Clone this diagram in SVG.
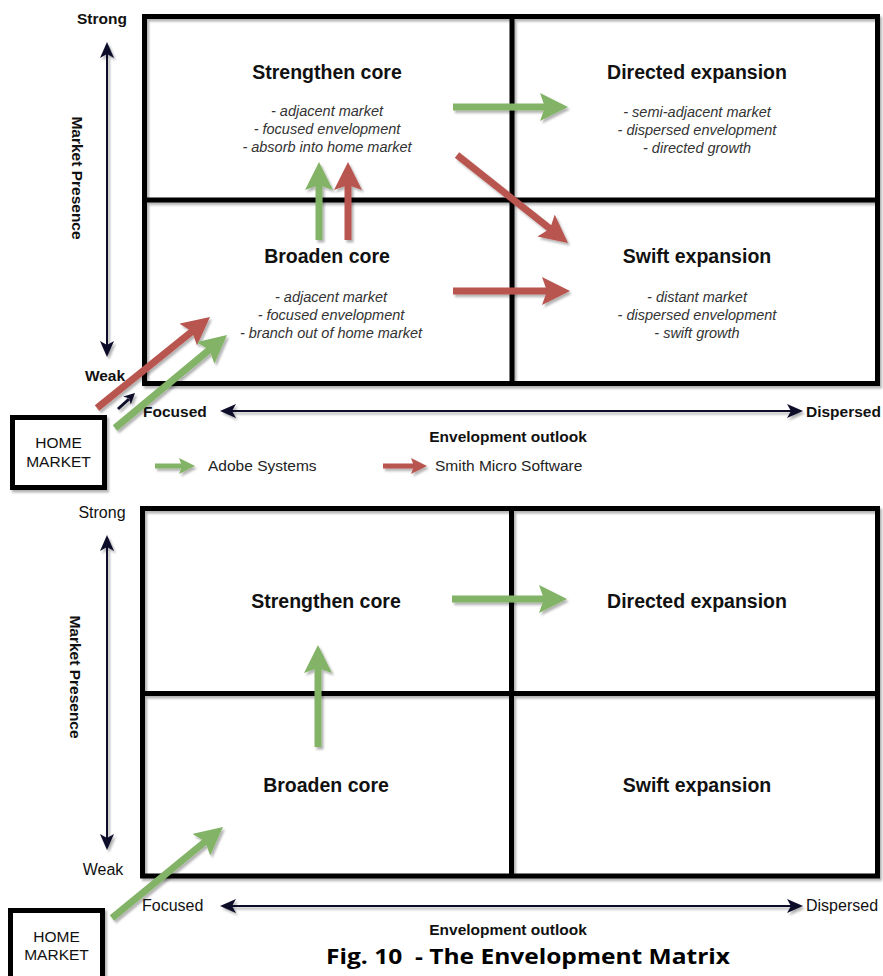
<svg xmlns="http://www.w3.org/2000/svg" width="883" height="976" viewBox="0 0 883 976">
<style>
  text { font-family: "Liberation Sans", Arial, sans-serif; fill: #111; }
  .title { font-size: 19.5px; font-weight: bold; text-anchor: middle; }
  .bullet { font-size: 14.5px; font-style: italic; text-anchor: middle; fill: #333; }
  .axb { font-size: 15.5px; font-weight: bold; }
  .axn { font-size: 16px; }
  .leg { font-size: 15.5px; fill: #222; }
  .home { font-size: 15.5px; text-anchor: middle; }
  .grid { fill: none; stroke: #000; stroke-width: 5; }
  .axis { fill: none; stroke: #0d0d2b; stroke-width: 2; }
  .g { fill: none; stroke: #82b366; stroke-width: 7; }
  .r { fill: none; stroke: #b85450; stroke-width: 7; }
  .gs { fill: none; stroke: #82b366; stroke-width: 5; }
  .rs { fill: none; stroke: #b85450; stroke-width: 5; }
  .caption { font-family: "Open Sans", "Noto Sans", sans-serif; font-size: 22px; font-weight: bold; text-anchor: middle; fill: #000; white-space: pre; }
</style>
<defs>
  <filter id="sh" filterUnits="userSpaceOnUse" x="0" y="0" width="883" height="976">
    <feDropShadow dx="2" dy="2.5" stdDeviation="1.2" flood-color="#000" flood-opacity="0.3"/>
  </filter>
  <marker id="hg" viewBox="0 0 28 28" markerWidth="28" markerHeight="28" markerUnits="userSpaceOnUse" refX="16" refY="14" orient="auto">
    <path d="M0,0 L28,14 L0,28 L5,14 z" fill="#82b366"/>
  </marker>
  <marker id="hr" viewBox="0 0 28 28" markerWidth="28" markerHeight="28" markerUnits="userSpaceOnUse" refX="16" refY="14" orient="auto">
    <path d="M0,0 L28,14 L0,28 L5,14 z" fill="#b85450"/>
  </marker>
  <marker id="hgs" viewBox="0 0 16 16" markerWidth="16" markerHeight="16" markerUnits="userSpaceOnUse" refX="9" refY="8" orient="auto">
    <path d="M0,0 L16,8 L0,16 L3,8 z" fill="#82b366"/>
  </marker>
  <marker id="hrs" viewBox="0 0 16 16" markerWidth="16" markerHeight="16" markerUnits="userSpaceOnUse" refX="9" refY="8" orient="auto">
    <path d="M0,0 L16,8 L0,16 L3,8 z" fill="#b85450"/>
  </marker>
  <marker id="ha" viewBox="0 0 16 14" markerWidth="16" markerHeight="14" markerUnits="userSpaceOnUse" refX="12" refY="7" orient="auto-start-reverse">
    <path d="M0,0 L16,7 L0,14 L4,7 z" fill="#0d0d2b"/>
  </marker>
</defs>

<!-- ===== TOP MATRIX ===== -->
<g id="top-matrix" filter="url(#sh)">
  <rect class="grid" x="144.5" y="16.5" width="733" height="367"/>
  <line class="grid" x1="512" y1="16.5" x2="512" y2="383.5"/>
  <line class="grid" x1="144.5" y1="200" x2="877.5" y2="200"/>
</g>

<g id="top-strengthen">
  <text class="title" x="327" y="79">Strengthen core</text>
  <text class="bullet" x="327" y="116">- adjacent market</text>
  <text class="bullet" x="327" y="134">- focused envelopment</text>
  <text class="bullet" x="327" y="152">- absorb into home market</text>
</g>
<g id="top-directed">
  <text class="title" x="697" y="79">Directed expansion</text>
  <text class="bullet" x="697" y="117">- semi-adjacent market</text>
  <text class="bullet" x="697" y="135">- dispersed envelopment</text>
  <text class="bullet" x="697" y="153">- directed growth</text>
</g>
<g id="top-broaden">
  <text class="title" x="327" y="263">Broaden core</text>
  <text class="bullet" x="331" y="302">- adjacent market</text>
  <text class="bullet" x="331" y="320">- focused envelopment</text>
  <text class="bullet" x="331" y="338">- branch out of home market</text>
</g>
<g id="top-swift">
  <text class="title" x="697" y="263">Swift expansion</text>
  <text class="bullet" x="697" y="302">- distant market</text>
  <text class="bullet" x="697" y="320">- dispersed envelopment</text>
  <text class="bullet" x="697" y="338">- swift growth</text>
</g>

<g id="top-axes">
  <g filter="url(#sh)">
    <line class="axis" x1="107" y1="46" x2="107" y2="353" marker-start="url(#ha)" marker-end="url(#ha)"/>
    <line class="axis" x1="224" y1="411" x2="799" y2="411" marker-start="url(#ha)" marker-end="url(#ha)"/>
  </g>
  <text class="axb" x="102" y="24" text-anchor="middle">Strong</text>
  <text class="axb" x="105" y="381" text-anchor="middle">Weak</text>
  <text class="axb" x="143" y="417">Focused</text>
  <text class="axb" x="806" y="417">Dispersed</text>
  <text class="axb" x="508" y="442" text-anchor="middle">Envelopment outlook</text>
  <text class="axb" transform="translate(72,178) rotate(90)" text-anchor="middle">Market Presence</text>
</g>

<g id="top-home">
  <rect x="12.5" y="417.5" width="92" height="70" fill="#fff" stroke="#000" stroke-width="5" filter="url(#sh)"/>
  <text class="home" x="58.5" y="448">HOME</text>
  <text class="home" x="58.5" y="467">MARKET</text>
</g>

<g id="top-connectors" filter="url(#sh)">
  <line class="r" x1="97" y1="408" x2="200.65" y2="324.5" marker-end="url(#hr)"/>
  <line class="g" x1="115" y1="428" x2="217.8" y2="342.7" marker-end="url(#hg)"/>
  <line x1="118" y1="409" x2="129" y2="399" stroke="#0d0d2b" stroke-width="3"/>
  <path d="M135,393 L130.8,404.6 L129.2,398.5 L123.2,396.6 z" fill="#0d0d2b"/>
  <line class="g" x1="319" y1="240" x2="319" y2="174" marker-end="url(#hg)"/>
  <line class="r" x1="348" y1="240" x2="348" y2="174" marker-end="url(#hr)"/>
  <line class="g" x1="453" y1="107" x2="556" y2="107" marker-end="url(#hg)"/>
  <line class="r" x1="457" y1="155" x2="558.6" y2="235.5" marker-end="url(#hr)"/>
  <line class="r" x1="453" y1="291" x2="558" y2="291" marker-end="url(#hr)"/>
</g>

<g id="legend">
  <g filter="url(#sh)">
    <line class="gs" x1="155" y1="466" x2="188" y2="466" marker-end="url(#hgs)"/>
    <line class="rs" x1="383" y1="466" x2="420" y2="466" marker-end="url(#hrs)"/>
  </g>
  <text class="leg" x="208" y="471">Adobe Systems</text>
  <text class="leg" x="435" y="471">Smith Micro Software</text>
</g>

<!-- ===== BOTTOM MATRIX ===== -->
<g id="bottom-matrix" filter="url(#sh)">
  <rect class="grid" x="142.5" y="508.5" width="735" height="367.5"/>
  <line class="grid" x1="511.5" y1="508.5" x2="511.5" y2="876"/>
  <line class="grid" x1="142.5" y1="693.5" x2="877.5" y2="693.5"/>
</g>

<g id="bottom-strengthen"><text class="title" x="326" y="608">Strengthen core</text></g>
<g id="bottom-directed"><text class="title" x="697" y="608">Directed expansion</text></g>
<g id="bottom-broaden"><text class="title" x="326" y="792">Broaden core</text></g>
<g id="bottom-swift"><text class="title" x="697" y="792">Swift expansion</text></g>

<g id="bottom-axes">
  <g filter="url(#sh)">
    <line class="axis" x1="107" y1="539" x2="107" y2="846" marker-start="url(#ha)" marker-end="url(#ha)"/>
    <line class="axis" x1="224" y1="906" x2="799" y2="906" marker-start="url(#ha)" marker-end="url(#ha)"/>
  </g>
  <text class="axn" x="102" y="518" text-anchor="middle">Strong</text>
  <text class="axn" x="103" y="875" text-anchor="middle">Weak</text>
  <text class="axn" x="142" y="911">Focused</text>
  <text class="axn" x="806" y="911">Dispersed</text>
  <text class="axb" x="508" y="935" text-anchor="middle">Envelopment outlook</text>
  <text class="axb" transform="translate(70,677) rotate(90)" text-anchor="middle">Market Presence</text>
</g>

<g id="bottom-home">
  <rect x="10.5" y="910.5" width="92" height="72" fill="#fff" stroke="#000" stroke-width="5" filter="url(#sh)"/>
  <text class="home" x="56.5" y="942">HOME</text>
  <text class="home" x="56.5" y="960">MARKET</text>
</g>

<g id="bottom-connectors" filter="url(#sh)">
  <line class="g" x1="112" y1="918" x2="213.7" y2="834.6" marker-end="url(#hg)"/>
  <line class="g" x1="318" y1="747" x2="318" y2="657" marker-end="url(#hg)"/>
  <line class="g" x1="452" y1="599" x2="555" y2="599" marker-end="url(#hg)"/>
</g>

<text class="caption" x="528" y="964" textLength="404" lengthAdjust="spacingAndGlyphs">Fig. 10  - The Envelopment Matrix</text>
</svg>
